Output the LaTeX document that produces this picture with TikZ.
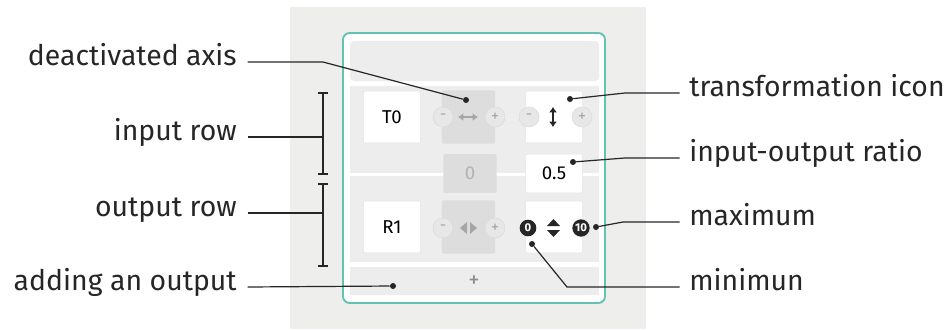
\documentclass[tikz,border=0pt]{standalone}
\usepackage{fontspec}
\setmainfont{Fira Sans}
\usetikzlibrary{arrows.meta}
\definecolor{bggray}{HTML}{EEEEED}
\definecolor{rowgray}{HTML}{EDEDED}
\definecolor{offgray}{HTML}{DDDDDD}
\definecolor{cardteal}{HTML}{62C3B2}
\definecolor{inkgray}{HTML}{262626}
\definecolor{btngray}{HTML}{E7E7E7}
\begin{document}
\begin{tikzpicture}[x=0.75pt, y=-0.75pt, >=Latex, font=\fontsize{21.3}{24}\selectfont,
    lab/.style={inner sep=0pt, text=inkgray},
    lead/.style={draw=inkgray, line width=0.9pt},
    cell/.style={draw=black!10, fill=white, rounded corners=1.5pt, minimum width=43pt, minimum height=39pt, font=\fontsize{14}{16}\selectfont},
    offcell/.style={fill=offgray, rounded corners=1.5pt, minimum width=40pt, minimum height=40pt, font=\fontsize{14}{16}\selectfont, text=black!30},
    btn/.style={circle, draw=black!14, fill=btngray, minimum size=15pt, inner sep=0pt, font=\fontsize{12}{12}\selectfont, text=black!35},
    knob/.style={circle, fill=black!85, minimum size=12.5pt, inner sep=0pt, font=\fontsize{8.5}{9}\selectfont\bfseries, text=white},
    dot/.style={circle, fill=inkgray, inner sep=0pt, minimum size=4.5pt}]
    \useasboundingbox (0,0) rectangle (951,329);

    \coordinate (a01) at (290,7);
    \coordinate (a02) at (646,329);
    \coordinate (a03) at (343,33);
    \coordinate (a04) at (605,303);

    \coordinate (k01) at (323,62);
    \coordinate (k02) at (323,137);
    \coordinate (k03) at (323,213);
    \coordinate (k04) at (625,93);
    \coordinate (k05) at (625,158);
    \coordinate (k06) at (623,222);
    \coordinate (k07) at (567,287);

    \fill[bggray] (a01) rectangle (a02);
    \draw[cardteal, line width=1.4pt, fill=white, rounded corners=5pt] (a03) rectangle (a04);
    \fill[rowgray, rounded corners=3pt] (350,41) rectangle (599,81);
    \fill[rowgray] (350,86) rectangle (599,173);
    \fill[rowgray] (350,176) rectangle (599,262);
    \fill[rowgray] (350,267) rectangle (599,295);

    % input row
    \node[cell] (c01) at (392,117) {T0};
    \node[offcell] (c02) at (468.5,117) {};
    \node[cell] (c03) at (554,117) {};
    \node[btn] (b01) at (443,117) {-};
    \node[btn] (b02) at (495,117) {+};
    \node[btn] (b03) at (529,117) {-};
    \node[btn] (b04) at (582,117) {+};
    \draw[black!35, line width=1.8pt, {Latex[length=4pt,width=6pt]}-{Latex[length=4pt,width=6pt]}] (458,117) -- (478,117);
    \draw[black!85, line width=1.8pt, {Latex[length=4pt,width=6pt]}-{Latex[length=4pt,width=6pt]}] (553,107) -- (553,127);

    % ratio
    \node[offcell, minimum height=29pt] (c04) at (470,173.5) {0};
    \node[cell, minimum height=29pt] (c05) at (554,173.5) {0.5};

    % output row
    \node[cell] (c06) at (392,227) {R1};
    \node[offcell] (c07) at (468.5,227) {};
    \node[cell] (c08) at (554,227) {};
    \node[btn] (b05) at (443,228) {-};
    \node[btn] (b06) at (495,228) {+};
    \fill[black!35] (467,222) -- (467,234) -- (460,228) -- cycle;
    \fill[black!35] (470,222) -- (470,234) -- (477,228) -- cycle;
    \fill[black!85] (547,226) -- (560,226) -- (553.5,219) -- cycle;
    \fill[black!85] (547,230) -- (560,230) -- (553.5,237) -- cycle;
    \node[knob] (m01) at (528,228) {0};
    \node[knob, minimum size=13pt] (m02) at (581,228) {10};

    \node[text=black!45, font=\fontsize{17}{17}\selectfont] (p01) at (474,282) {+};

    % brackets
    \draw[lead] (318,93) -- (328,93) (323,93) -- (323,174) (318,174) -- (328,174);
    \draw[lead] (318,184) -- (328,184) (323,184) -- (323,266) (318,266) -- (328,266);

    \node[dot] (d01) at (466,100) {};
    \node[dot] (d02) at (393,286) {};
    \node[dot] (d03) at (570,99) {};
    \node[dot] (d04) at (573,162) {};
    \node[dot] (d05) at (596,227) {};
    \node[dot] (d06) at (532,244) {};

    \node[lab, anchor=mid east] (l01) at (237,62) {deactivated axis};
    \node[lab, anchor=mid east] (l02) at (237,137) {input row};
    \node[lab, anchor=mid east] (l03) at (237,213) {output row};
    \node[lab, anchor=mid east] (l04) at (237,287) {adding an output};
    \node[lab, anchor=mid west] (l05) at (689,93) {transformation icon};
    \node[lab, anchor=mid west] (l06) at (689,158) {input-output ratio};
    \node[lab, anchor=mid west] (l07) at (689,222) {maximum};
    \node[lab, anchor=mid west] (l08) at (689,287) {minimun};

    \draw[lead] ([xshift=8pt]l01.mid east) -- (k01) -- (d01);
    \draw[lead] ([xshift=8pt]l02.mid east) -- (k02);
    \draw[lead] ([xshift=8pt]l03.mid east) -- (k03);
    \draw[lead] ([xshift=8pt]l04.mid east) -- (d02);
    \draw[lead] ([xshift=-7pt]l05.mid west) -- (k04) -- (d03);
    \draw[lead] ([xshift=-7pt]l06.mid west) -- (k05) -- (d04);
    \draw[lead] ([xshift=-7pt]l07.mid west) -- (k06) -- (d05);
    \draw[lead] ([xshift=-7pt]l08.mid west) -- (k07) -- (d06);

\end{tikzpicture}
\end{document}
